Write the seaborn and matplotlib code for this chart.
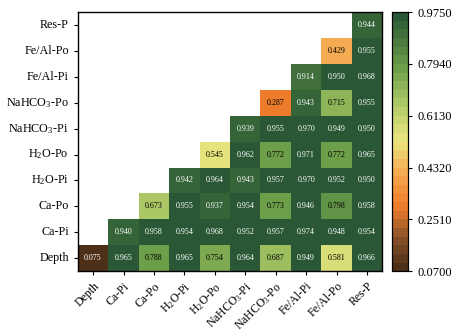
import numpy as np
import pandas as pd
import matplotlib
matplotlib.use("Agg")
import matplotlib.pyplot as plt
from matplotlib.colors import LinearSegmentedColormap
import seaborn as sns

labels = ["Depth", "Ca-Pi", "Ca-Po", "H$_2$O-Pi", "H$_2$O-Po", "NaHCO$_3$-Pi",
          "NaHCO$_3$-Po", "Fe/Al-Pi", "Fe/Al-Po", "Res-P"]

row_depth = [0.075, 0.965, 0.788, 0.965, 0.754, 0.964, 0.687, 0.949, 0.581, 0.966]
row_capi = [0.940, 0.958, 0.954, 0.968, 0.952, 0.957, 0.974, 0.948, 0.954]
row_capo = [0.673, 0.955, 0.937, 0.954, 0.773, 0.946, 0.798, 0.958]
row_h2opi = [0.942, 0.964, 0.943, 0.957, 0.970, 0.952, 0.950]
row_h2opo = [0.545, 0.962, 0.772, 0.971, 0.772, 0.965]
row_nahco3pi = [0.939, 0.955, 0.970, 0.949, 0.950]
row_nahco3po = [0.287, 0.943, 0.715, 0.955]
row_fealpi = [0.914, 0.950, 0.968]
row_fealpo = [0.429, 0.955]
row_resp = [0.944]

rows = [row_depth, row_capi, row_capo, row_h2opi, row_h2opo, row_nahco3pi,
        row_nahco3po, row_fealpi, row_fealpo, row_resp]

n = len(labels)
mat = np.full((n, n), np.nan)
for i, r in enumerate(rows):
    mat[i, i:] = r
df = pd.DataFrame(mat, index=labels, columns=labels).iloc[::-1]

vmin, vmax = 0.07, 0.975
anchors = [(0.0, "#4e2f18"), (0.12, "#8a5228"), (0.2, "#d2702a"), (0.25, "#f27e2c"),
           (0.4, "#f4b258"), (0.5, "#ece67e"), (0.6, "#c4d470"), (0.7, "#98bc5c"),
           (0.8, "#6a9c48"), (1.0, "#2a5836")]
cmap = LinearSegmentedColormap.from_list("c", anchors, N=30)

plt.rcParams["font.family"] = ["Liberation Serif", "DejaVu Serif"]
plt.rcParams["mathtext.fontset"] = "custom"
plt.rcParams["mathtext.rm"] = "Liberation Serif"
plt.rcParams["mathtext.it"] = "Liberation Serif:italic"

fig = plt.figure(figsize=(4.69, 3.34), dpi=100)
ax = fig.add_axes([0.166, 0.188, 0.649, 0.776])
cax = fig.add_axes([0.836, 0.188, 0.034, 0.776])

sns.heatmap(df, ax=ax, cbar_ax=cax, cmap=cmap, vmin=vmin, vmax=vmax,
            mask=df.isna(), annot=False, linewidths=0)

for yi in range(n):
    for xi in range(n):
        v = df.iloc[yi, xi]
        if np.isnan(v):
            continue
        col = "white" if (v < 0.2 or v > 0.85) else "black"
        ax.text(xi + 0.5, yi + 0.5, f"{v:.3f}", ha="center", va="center",
                fontsize=5.8, color=col)

for s in ax.spines.values():
    s.set_visible(True)
    s.set_color("black")
    s.set_linewidth(1.0)

ax.set_xticks(np.arange(n) + 0.5)
ax.set_yticks(np.arange(n) + 0.5)
ax.set_xticklabels(labels, rotation=45, ha="right", rotation_mode="anchor", fontsize=8.5)
ax.set_yticklabels(df.index, rotation=0, fontsize=8.7)
ax.tick_params(axis="both", length=3, width=0.8, color="black", direction="out")
ax.set_xlabel("")
ax.set_ylabel("")

ticks = [0.07, 0.251, 0.432, 0.613, 0.794, 0.975]
cax.set_yticks(ticks)
cax.set_yticklabels([f"{t:.4f}" for t in ticks], fontsize=9)
cax.tick_params(length=3, width=0.8)
for s in cax.spines.values():
    s.set_visible(True)
    s.set_color("black")
    s.set_linewidth(0.8)

fig.savefig("out.png", dpi=100)
